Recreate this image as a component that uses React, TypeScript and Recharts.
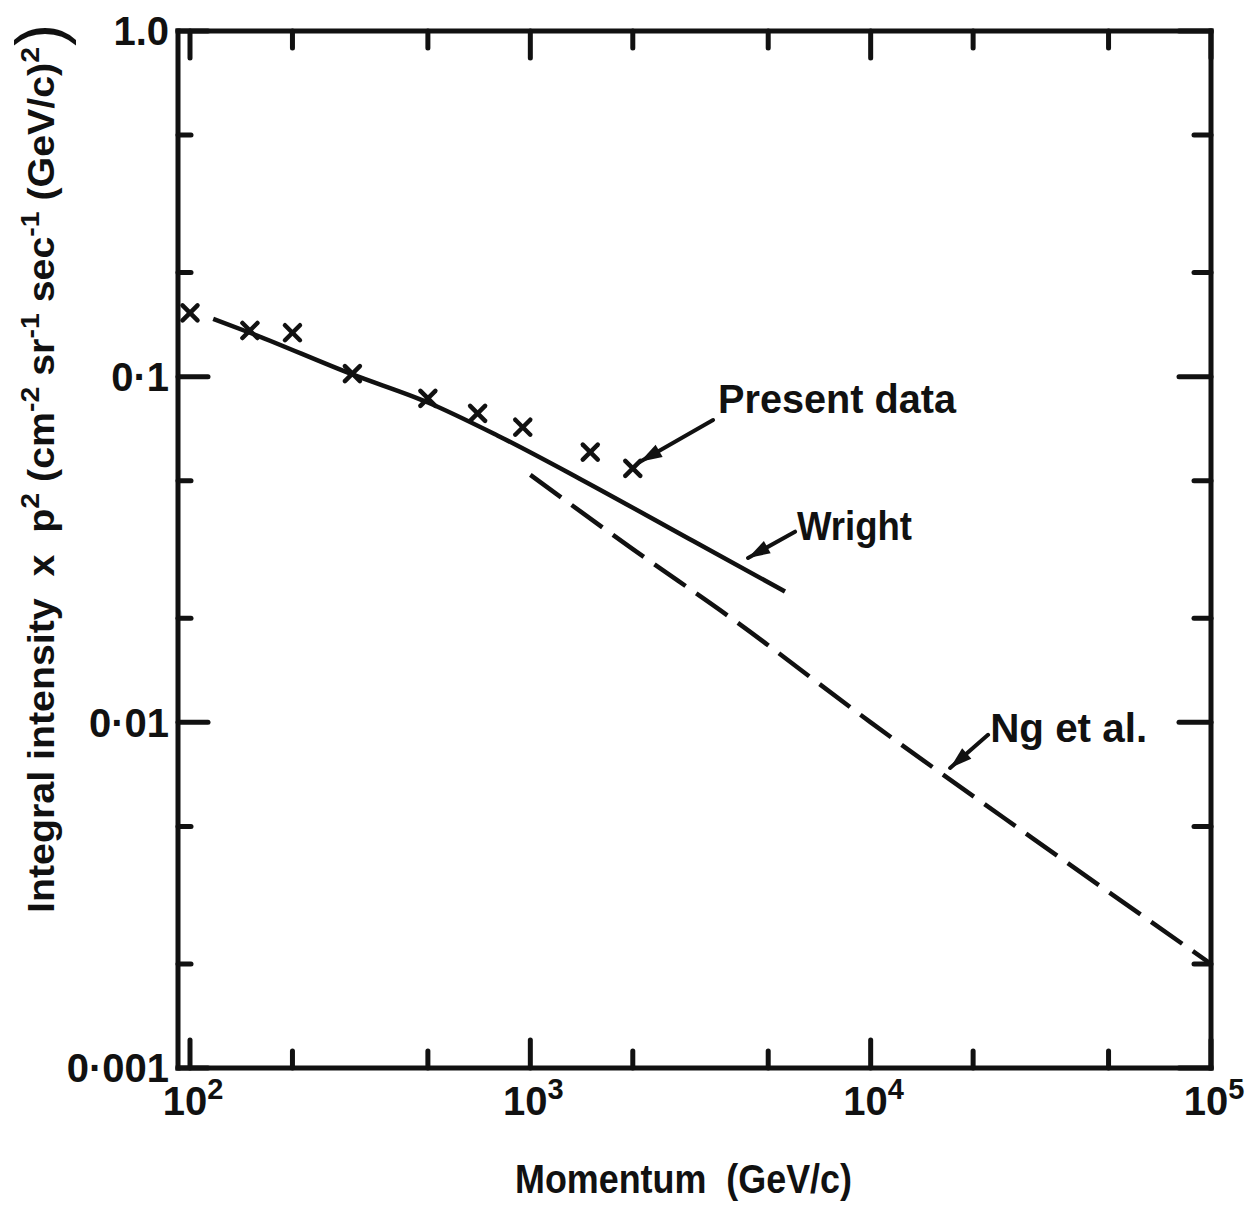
import {
  ComposedChart,
  Line,
  Scatter,
  XAxis,
  YAxis,
  ReferenceLine,
  ReferenceDot,
} from "recharts";

const INK = "#111";
const FONT = "'Liberation Sans', Arial, sans-serif";

// present data, the x marks
const presentMomentum = [100, 150, 200, 300, 500, 700, 950, 1500, 2000];
const presentIntensity = [0.153, 0.136, 0.134, 0.102, 0.0865, 0.0783, 0.0714, 0.0605, 0.0543];

// Wright curve (solid)
const wrightMomentum = [117, 150, 300, 500, 800, 1400, 3000, 5600];
const wrightIntensity = [0.147, 0.134, 0.1015, 0.0842, 0.0676, 0.0506, 0.0335, 0.0239];

// Ng et al. curve (dashed)
const ngMomentum = [1000, 2000, 3900, 10000, 30000, 100000];
const ngIntensity = [0.052, 0.0317, 0.02, 0.01, 0.00461, 0.002];

const xTicks = [100, 200, 500, 1000, 2000, 5000, 10000, 20000, 50000, 100000];
const yTicks = [0.001, 0.002, 0.005, 0.01, 0.02, 0.05, 0.1, 0.2, 0.5, 1];
const yTickLabels: Record<string, string> = {
  "1": "1.0",
  "0.1": "0·1",
  "0.01": "0·01",
  "0.001": "0·001",
};

// annotation texts and arrows, in data coordinates
const notes = [
  { text: "Present data", at: [3562, 0.0785], width: 238, from: [3443, 0.0749], to: [2101, 0.0567], angle: 150 },
  { text: "Wright", at: [6076, 0.0337], width: 115, from: [5995, 0.0356], to: [4362, 0.0299], angle: 151 },
  { text: "Ng et al.", at: [22440, 0.00878], width: 157, from: [22130, 0.0092], to: [17120, 0.00738], angle: 139 },
];

const zip = (xs: number[], ys: number[]) => xs.map((p, i) => ({ p, v: ys[i] }));
const presentData = zip(presentMomentum, presentIntensity);
const wrightData = zip(wrightMomentum, wrightIntensity);
const ngData = zip(ngMomentum, ngIntensity);

const isDecade = (v: number) => Math.abs(Math.log10(v) - Math.round(Math.log10(v))) < 1e-6;

const BottomTick = ({ x, y, payload }: any) => {
  const v = payload.value;
  const major = isDecade(v);
  return (
    <g>
      <line x1={x} x2={x} y1={y} y2={y - (major ? 28 : 17)} stroke={INK} strokeWidth={5} strokeLinecap="round" />
      {major && (
        <text x={x + 3} y={y + 47} textAnchor="middle" fontFamily={FONT} fontWeight="bold" fontSize={40} fill={INK}>
          10
          <tspan dy={-16} fontSize={29}>{Math.round(Math.log10(v))}</tspan>
        </text>
      )}
    </g>
  );
};

const TopTick = ({ x, y, payload }: any) => {
  const major = isDecade(payload.value);
  return <line x1={x} x2={x} y1={y} y2={y + (major ? 27 : 17)} stroke={INK} strokeWidth={5} strokeLinecap="round" />;
};

const LeftTick = ({ x, y, payload }: any) => {
  const v = payload.value;
  const major = isDecade(v);
  const key = String(v);
  return (
    <g>
      <line x1={x} x2={x + (major ? 30 : 13)} y1={y} y2={y} stroke={INK} strokeWidth={5} strokeLinecap="round" />
      {major && (
        <text x={x - 9} y={y} dy="0.36em" textAnchor="end" fontFamily={FONT} fontWeight="bold" fontSize={40} fill={INK}>
          {yTickLabels[key]}
        </text>
      )}
    </g>
  );
};

const RightTick = ({ x, y, payload }: any) => {
  const major = isDecade(payload.value);
  return <line x1={x} x2={x - (major ? 32 : 17)} y1={y} y2={y} stroke={INK} strokeWidth={5} strokeLinecap="round" />;
};

const Cross = ({ cx, cy }: any) => (
  <g stroke={INK} strokeWidth={4.5} strokeLinecap="round">
    <line x1={cx - 7.5} y1={cy - 7.5} x2={cx + 7.5} y2={cy + 7.5} />
    <line x1={cx - 7.5} y1={cy + 7.5} x2={cx + 7.5} y2={cy - 7.5} />
  </g>
);

const YTitle = () => (
  <g fontFamily={FONT} fontWeight="bold" fill={INK}>
    <text transform="translate(54, 913) rotate(-90)" fontSize={36} textLength={866} lengthAdjust="spacingAndGlyphs" style={{ whiteSpace: "pre" }}>
      {"Integral intensity  x  p"}
      <tspan dy={-15} fontSize={26}>2</tspan>
      <tspan dy={15}>{" (cm"}</tspan>
      <tspan dy={-15} fontSize={26}>-2</tspan>
      <tspan dy={15}>{" sr"}</tspan>
      <tspan dy={-15} fontSize={26}>-1</tspan>
      <tspan dy={15}>{" sec"}</tspan>
      <tspan dy={-15} fontSize={26}>-1</tspan>
      <tspan dy={15}>{" (GeV/c)"}</tspan>
      <tspan dy={-15} fontSize={26}>2</tspan>
    </text>
    <text transform="translate(62, 46) rotate(-90)" fontSize={66} fontWeight="normal">)</text>
  </g>
);

const XTitle = () => (
  <text x={515} y={1193} fontFamily={FONT} fontWeight="bold" fontSize={40} fill={INK} textLength={337} lengthAdjust="spacingAndGlyphs" style={{ whiteSpace: "pre" }}>
    {"Momentum  (GeV/c)"}
  </text>
);

export default function App() {
  return (
    <div style={{ position: "absolute", left: 0, top: 0, width: 1248, height: 1206, background: "#fff" }}>
      <ComposedChart width={1248} height={1206} margin={{ top: 0, right: 0, bottom: 0, left: 0 }}>
        <XAxis
          xAxisId="b"
          type="number"
          dataKey="p"
          scale="log"
          domain={[92.2, 100000]}
          allowDataOverflow
          ticks={xTicks}
          interval={0}
          height={138}
          tickSize={0}
          tickMargin={0}
          tickLine={false}
          tick={(props: any) => <BottomTick {...props} />}
          axisLine={{ stroke: INK, strokeWidth: 5, strokeLinecap: "square" }}
          label={<XTitle />}
        />
        <XAxis
          xAxisId="t"
          orientation="top"
          type="number"
          dataKey="p"
          scale="log"
          domain={[92.2, 100000]}
          allowDataOverflow
          ticks={xTicks}
          interval={0}
          height={31}
          tickSize={0}
          tickMargin={0}
          tickLine={false}
          tick={(props: any) => <TopTick {...props} />}
          axisLine={{ stroke: INK, strokeWidth: 5, strokeLinecap: "square" }}
        />
        <YAxis
          yAxisId="l"
          type="number"
          scale="log"
          domain={[0.001, 1]}
          allowDataOverflow
          ticks={yTicks}
          interval={0}
          width={178}
          tickSize={0}
          tickMargin={0}
          tickLine={false}
          tick={(props: any) => <LeftTick {...props} />}
          axisLine={{ stroke: INK, strokeWidth: 5, strokeLinecap: "square" }}
          label={<YTitle />}
        />
        <YAxis
          yAxisId="r"
          orientation="right"
          type="number"
          scale="log"
          domain={[0.001, 1]}
          allowDataOverflow
          ticks={yTicks}
          interval={0}
          width={37}
          tickSize={0}
          tickMargin={0}
          tickLine={false}
          tick={(props: any) => <RightTick {...props} />}
          axisLine={{ stroke: INK, strokeWidth: 5, strokeLinecap: "square" }}
        />
        <Line
          xAxisId="b"
          yAxisId="l"
          data={wrightData}
          dataKey="v"
          type="monotone"
          stroke={INK}
          strokeWidth={4.5}
          dot={false}
          isAnimationActive={false}
        />
        <Line
          xAxisId="b"
          yAxisId="l"
          data={ngData}
          dataKey="v"
          type="monotone"
          stroke={INK}
          strokeWidth={4.5}
          strokeDasharray="38 13"
          dot={false}
          isAnimationActive={false}
        />
        <Scatter
          xAxisId="b"
          yAxisId="l"
          data={presentData}
          dataKey="v"
          shape={(props: any) => <Cross {...props} />}
          isAnimationActive={false}
        />
        {notes.map((n) => (
          <ReferenceLine
            key={n.text + "-shaft"}
            xAxisId="b"
            yAxisId="l"
            segment={[{ x: n.from[0], y: n.from[1] }, { x: n.to[0], y: n.to[1] }]}
            stroke={INK}
            strokeWidth={4}
            strokeLinecap="round"
          />
        ))}
        {notes.map((n) => (
          <ReferenceDot
            key={n.text + "-head"}
            xAxisId="b"
            yAxisId="l"
            x={n.to[0]}
            y={n.to[1]}
            shape={(p: any) => (
              <polygon
                points="0,0 -22,-7 -22,7"
                fill={INK}
                transform={`translate(${p.cx},${p.cy}) rotate(${n.angle})`}
              />
            )}
          />
        ))}
        {notes.map((n) => (
          <ReferenceDot
            key={n.text + "-text"}
            xAxisId="b"
            yAxisId="l"
            x={n.at[0]}
            y={n.at[1]}
            shape={(p: any) => (
              <text
                x={p.cx}
                y={p.cy}
                fontFamily={FONT}
                fontWeight="bold"
                fontSize={41}
                fill={INK}
                textLength={n.width}
                lengthAdjust="spacingAndGlyphs"
                style={{ whiteSpace: "pre" }}
              >
                {n.text}
              </text>
            )}
          />
        ))}
      </ComposedChart>
    </div>
  );
}
